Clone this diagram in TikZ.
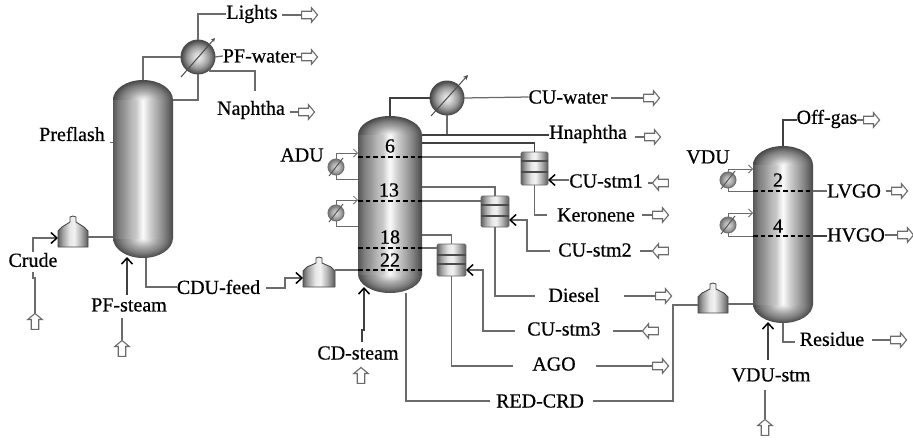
\documentclass[tikz,border=0pt]{standalone}
\usepackage{fontspec}
\newfontfamily\lblfont[FakeBold=0.6]{Liberation Serif}
\usetikzlibrary{arrows.meta,shapes.arrows,calc}
\pgfdeclarehorizontalshading{colh}{100bp}{
 color(0bp)=(black!66); color(25bp)=(black!66); color(30bp)=(black!50); color(35bp)=(black!40);
 color(40bp)=(black!28); color(44bp)=(black!22); color(48bp)=(black!7); color(50bp)=(black!2); color(52bp)=(black!8);
 color(56bp)=(black!20); color(62bp)=(black!34); color(68bp)=(black!50); color(75bp)=(black!72); color(100bp)=(black!72)}
\pgfdeclareradialshading{colr}{\pgfpoint{0bp}{0bp}}{
 color(0bp)=(black!3); color(3bp)=(black!10); color(7bp)=(black!22); color(12bp)=(black!36);
 color(18bp)=(black!50); color(25bp)=(black!72); color(50bp)=(black!72)}
\pgfdeclarehorizontalshading{drumh}{100bp}{
 color(0bp)=(black!62); color(25bp)=(black!62); color(33bp)=(black!36); color(44bp)=(black!10);
 color(52bp)=(black!5); color(62bp)=(black!28); color(75bp)=(black!65); color(100bp)=(black!65)}
\pgfdeclareradialshading{ballr}{\pgfpoint{0bp}{0bp}}{
 color(0bp)=(black!6); color(8bp)=(black!20); color(16bp)=(black!40); color(25bp)=(black!72); color(50bp)=(black!72)}
\pgfdeclareradialshading{rballr}{\pgfpoint{0bp}{0bp}}{
 color(0bp)=(black!15); color(12bp)=(black!30); color(25bp)=(black!55); color(50bp)=(black!55)}
\newcommand\colmn[6]{% name, left, right, top, bottom, dome
 \pgfmathsetmacro\cxx{(#2+#3)/2}\pgfmathsetmacro\hww{(#3-#2)/2}
 \pgfmathsetmacro\cyy{(#4+#5)/2}\pgfmathsetmacro\hgt{#5-#4}\pgfmathsetmacro\wdd{#3-#2}
 \path[shade,shading=colr] (\cxx,#4+#6) ellipse [x radius=\hww,y radius=#6];
 \path[shade,shading=colr] (\cxx,#5-#6) ellipse [x radius=\hww,y radius=#6];
 \path[shade,shading=colh] (#2,#4+#6) rectangle (#3,#5-#6);
 \node[inner sep=0pt,outer sep=0pt,minimum width=\wdd pt,minimum height=\hgt pt] (#1) at (\cxx,\cyy) {};}
\newcommand\drumv[5]{% name, left, right, neck top, bottom
 \pgfmathsetmacro\cxx{(#2+#3)/2}\pgfmathsetmacro\cyy{(#4+#5)/2}
 \pgfmathsetmacro\hgt{#5-#4}\pgfmathsetmacro\wdd{#3-#2}
 \path[shade,shading=drumh,draw=black!72,line width=.9pt,line join=round]
  (#2,#5) -- (#2,#5-16) -- (#2+4,#5-20) -- (\cxx-3,#4+6) -- (\cxx-3,#4+1) -- (\cxx,#4) -- (\cxx+3,#4+1) -- (\cxx+3,#4+6) -- (#3-4,#5-20) -- (#3,#5-16) -- (#3,#5) -- cycle;
 \node[inner sep=0pt,outer sep=0pt,minimum width=\wdd pt,minimum height=\hgt pt] (#1) at (\cxx,\cyy) {};}
\newcommand\strip[6]{% name, left, right, top, bottom, bars
 \pgfmathsetmacro\cxx{(#2+#3)/2}\pgfmathsetmacro\cyy{(#4+#5)/2}
 \pgfmathsetmacro\hgt{#5-#4}\pgfmathsetmacro\wdd{#3-#2}
 \node[stripbox,minimum width=\wdd pt,minimum height=\hgt pt] (#1) at (\cxx,\cyy) {};
 \foreach \yy in {#6} \draw[line width=1.1pt,black!70] (#1.west |- 0,\yy) -- (#1.east |- 0,\yy);}
\tikzset{
 pipe/.style={draw=black!58,line width=1.25pt,line join=miter},
 darkp/.style={draw=black!75,line width=1.25pt},
 feed/.style={pipe,-{Straight Barb[length=6pt,width=11pt,line width=1.5pt,color=black]}},
 thinfeed/.style={pipe,line width=1pt,-{Straight Barb[length=4pt,width=8pt,line width=.8pt]}},
 hollow/.style={single arrow,draw=black!58,fill=white,line width=1.1pt,minimum height=16pt,
   single arrow head extend=3.5pt,inner sep=3.2pt,outer sep=0pt,single arrow tip angle=100},
 hr/.style={hollow},hl/.style={hollow,shape border rotate=180},hu/.style={hollow,shape border rotate=90},
 lbl/.style={font=\lblfont\fontsize{20}{21}\selectfont,inner sep=0pt,outer sep=0pt,text=black,anchor=center},
 trays/.style={draw=black,line width=1.4pt,dash pattern=on 4.5pt off 3pt},
 ball/.style={circle,shade,shading=ballr,draw=black!70,line width=1pt,inner sep=0pt,outer sep=0pt},
 rball/.style={ball,shading=rballr,draw=black!55},
 stripbox/.style={rectangle,rounded corners=1.5pt,shade,shading=drumh,draw=black!60,line width=.8pt,inner sep=0pt,outer sep=0pt},
}
\begin{document}
\begin{tikzpicture}[x=1pt,y=-1pt]
\useasboundingbox (0,0) rectangle (913,440);
% ---------- equipment
\colmn{col1}{113}{173}{80}{258}{20}
\colmn{col2}{358}{422}{116}{293}{19}
\colmn{col3}{753}{813}{146}{323}{19}
\drumv{dr1}{58}{88}{216}{247}
\drumv{dr2}{303}{335}{257}{287}
\drumv{dr3}{698}{728}{283}{313}
\node[ball,minimum size=34pt] (c1) at (198,57) {};
\node[ball,minimum size=34pt] (c2) at (447,98) {};
\node[rball,minimum size=16pt] (r1) at (336,167) {};
\node[rball,minimum size=16pt] (r2) at (336,213) {};
\node[rball,minimum size=16pt] (r3) at (728,180) {};
\node[rball,minimum size=16pt] (r4) at (728,225) {};
\strip{s1}{521}{548}{152}{185}{161,172}
\strip{s2}{481}{509}{196}{227}{205,216}
\strip{s3}{437}{466}{244}{276}{255,264}
% ---------- exchanger slashes
\draw[black!70,line width=1pt,-{Stealth[length=4pt,width=4pt]}] ($(c1)+(-17,20)$) -- ($(c1)+(17,-19)$);
\draw[black!70,line width=1pt,-{Stealth[length=5pt,width=5pt]}] ($(c2)+(-16,18)$) -- ($(c2)+(21,-23)$);
\foreach \r in {r1,r2,r3,r4} \draw[black!65,line width=1pt] ($(\r)+(-7,9)$) -- ($(\r)+(7,-9)$);
% ---------- labels
\node[lbl] (lights) at (252,14) {Lights};
\node[lbl] (pfw) at (259.5,56) {PF-water};
\node[lbl] (naph) at (251,110) {Naphtha};
\node[lbl] (prefl) at (72,134) {Preflash};
\node[lbl] (crude) at (33,260) {Crude};
\node[lbl] (pfst) at (129,305) {PF-steam};
\node[lbl] (cfeed) at (218.5,287) {CDU-feed};
\node[lbl] (adu) at (302,155) {ADU};
\node[lbl] (cuw) at (568,97) {CU-water};
\node[lbl] (hna) at (588,134) {Hnaphtha};
\node[lbl] (st1) at (606,181) {CU-stm1};
\node[lbl] (ker) at (596,215) {Keronene};
\node[lbl] (st2) at (595,250) {CU-stm2};
\node[lbl] (die) at (574,295) {Diesel};
\node[lbl] (st3) at (564,329) {CU-stm3};
\node[lbl] (ago) at (554,364) {AGO};
\node[lbl] (red) at (540,401) {RED-CRD};
\node[lbl] (cdst) at (358,353) {CD-steam};
\node[lbl] (off) at (827,119) {Off-gas};
\node[lbl] (vdu) at (708,157) {VDU};
\node[lbl] (lvgo) at (854,191) {LVGO};
\node[lbl] (hvgo) at (856,235) {HVGO};
\node[lbl] (resi) at (832,339) {Residue};
\node[lbl] (vst) at (771,375) {VDU-stm};
\node[lbl] at (390,146) (t6) {6};
\node[lbl] at (389,190) (t13) {13};
\node[lbl] at (390,237) (t18) {18};
\node[lbl] at (390,260) (t22) {22};
\node[lbl] at (778,180) (t2) {2};
\node[lbl] at (778,226) (t4) {4};
% ---------- hollow arrows
\node[hr] (a1) at (308,15) {};
\node[hr] (a2) at (308,57) {};
\node[hr] (a3) at (305,112) {};
\node[hu] (a4) at (35,323) {};
\node[hu] (a5) at (122,350) {};
\node[hr] (a6) at (650,98) {};
\node[hr] (a7) at (651,137) {};
\node[hl] (a8) at (662,183) {};
\node[hr] (a9) at (659,215) {};
\node[hl] (a10) at (662,251) {};
\node[hr] (a11) at (662,296) {};
\node[hl] (a12) at (652,331) {};
\node[hr] (a13) at (659,366) {};
\node[hu] (a14) at (361,377) {};
\node[hr] (a15) at (870,120) {};
\node[hr] (a16) at (898,191) {};
\node[hr] (a17) at (904,235) {};
\node[hr] (a18) at (897,340) {};
\node[hu] (a19) at (765,429) {};
% ---------- preflash
\draw[pipe] (col1.north) |- (c1.west);
\draw[pipe] (c1.north) |- (lights.west);
\draw[pipe,shorten <=4pt] (lights.east |- a1.tail) -- (a1.tail);
\draw[pipe] (c1.east) -- (pfw.west);
\draw[pipe] (pfw.east |- a2.tail) -- (a2.tail);
\draw[pipe] (c1.south) -- (c1.south |- 0,100) -- (col1.east |- 0,100);
\draw[pipe] (c1.south east) -- ++(0,2) -| (255,91);
\draw[pipe,shorten <=5pt] (naph.east |- a3.tail) -- (a3.tail);
\draw[black!60,line width=1pt] (col1.west |- 0,142) -- ++(-3,0);
\draw[feed] (33,252) |- (dr1.west |- 0,238);
\draw[pipe] (33,272) -- (33,278) -- (35,278) -- (a4.tip);
\draw[pipe] (dr1.east |- 0,237) -- (col1.west |- 0,237);
\draw[feed,darkp] (127,295) -- (127,257);
\draw[pipe] (122,318) -- (a5.tip);
\draw[pipe] (146,258) |- (cfeed.west);
\draw[feed] (266,288) -- (285,288) -- (285,278) -- (dr2.west |- 0,278);
% ---------- atmospheric unit
\draw[pipe] (dr2.east |- 0,270) -- (col2.west |- 0,270);
\draw[darkp] (col2.north) |- (c2.west);
\draw[pipe] (c2.east) -- (cuw.west);
\draw[pipe,shorten <=4pt] (cuw.east |- a6.tail) -- (a6.tail);
\draw[pipe] (c2.south) -- (c2.south |- 0,135);
\draw[darkp] (col2.east |- 0,135) -- (hna.west |- 0,135);
\draw[pipe,shorten <=8pt] (hna.east |- a7.tail) -- (a7.tail);
\draw[darkp] (col2.east |- 0,143) -| (s1.north);
\draw[pipe] (col2.east |- 0,157) -- (s1.west |- 0,157);
\draw[feed] (st1.west |- 0,180) -- (s1.east |- 0,180);
\draw[pipe,shorten <=5pt] (st1.east |- a8.tip) -- (a8.tip);
\draw[pipe] (s1.south) |- (547,215);
\draw[pipe,shorten <=7pt] (ker.east |- a9.tail) -- (a9.tail);
\draw[pipe] (col2.east |- 0,187) -| (s2.north);
\draw[pipe] (col2.east |- 0,201) -- (s2.west |- 0,201);
\draw[feed] (550,251) -- (527,251) |- (s2.east |- 0,220);
\draw[pipe,shorten <=8pt] (st2.east |- a10.tip) -- (a10.tip);
\draw[pipe] (s2.south) |- (535,296);
\draw[pipe,shorten <=24pt] (die.east |- a11.tail) -- (a11.tail);
\draw[pipe] (col2.east |- 0,235) -| (s3.north);
\draw[pipe] (col2.east |- 0,248) -- (s3.west |- 0,248);
\draw[feed] (515,331) -- (483,331) |- (s3.east |- 0,270);
\draw[pipe,shorten <=12pt] (st3.east |- a12.tip) -- (a12.tip);
\draw[pipe] (s3.south) |- (513,366);
\draw[pipe,shorten <=20pt] (ago.east |- a13.tail) -- (a13.tail);
\draw[pipe] (406,293) |- (490,401);
\draw[pipe] (593,401) -- (673,401) |- (dr3.west |- 0,305);
\draw[feed,darkp] (362,342) -- (362,330) -- (364,330) -- (364,287);
% reboilers
\draw[thinfeed] (r1.north) -- (336,153) -- (col2.west |- 0,153);
\draw[pipe,line width=1pt] (r1.south) -- (336,179) -- (col2.west |- 0,179);
\draw[thinfeed] (r2.north) -- (336,200) -- (col2.west |- 0,200);
\draw[pipe,line width=1pt] (r2.south) -- (336,226) -- (col2.west |- 0,226);
\draw[thinfeed] (r3.north) -- (728,169) -- (col3.west |- 0,169);
\draw[pipe,line width=1pt] (r3.south) -- (728,191) -- (col3.west |- 0,191);
\draw[thinfeed] (r4.north) -- (728,213) -- (col3.west |- 0,213);
\draw[pipe,line width=1pt] (r4.south) -- (728,236) -- (col3.west |- 0,236);
% ---------- vacuum unit
\draw[pipe] (dr3.east |- 0,304) -- (col3.west |- 0,304);
\draw[darkp] (col3.north) |- (off.west |- 0,120);
\draw[pipe] (off.east |- a15.tail) -- (a15.tail);
\draw[pipe] (col3.east |- 0,191) -- (lvgo.west |- 0,191);
\draw[pipe,shorten <=5pt] (lvgo.east |- a16.tail) -- (a16.tail);
\draw[darkp] (col3.east |- 0,236) -- (hvgo.west |- 0,236);
\draw[pipe] (hvgo.east |- a17.tail) -- (a17.tail);
\draw[pipe] (col3.south) |- (795,342);
\draw[pipe,shorten <=8pt] (resi.east |- a18.tail) -- (a18.tail);
\draw[feed,darkp] (768,360) -- (768,322);
\draw[pipe] (765,390) -- (a19.tip);
% ---------- tray lines
\foreach \yy in {157,201,248,270} \draw[trays] (col2.west |- 0,\yy) -- (col2.east |- 0,\yy);
\foreach \yy in {191,236} \draw[trays] (col3.west |- 0,\yy) -- (col3.east |- 0,\yy);
\end{tikzpicture}
\end{document}
